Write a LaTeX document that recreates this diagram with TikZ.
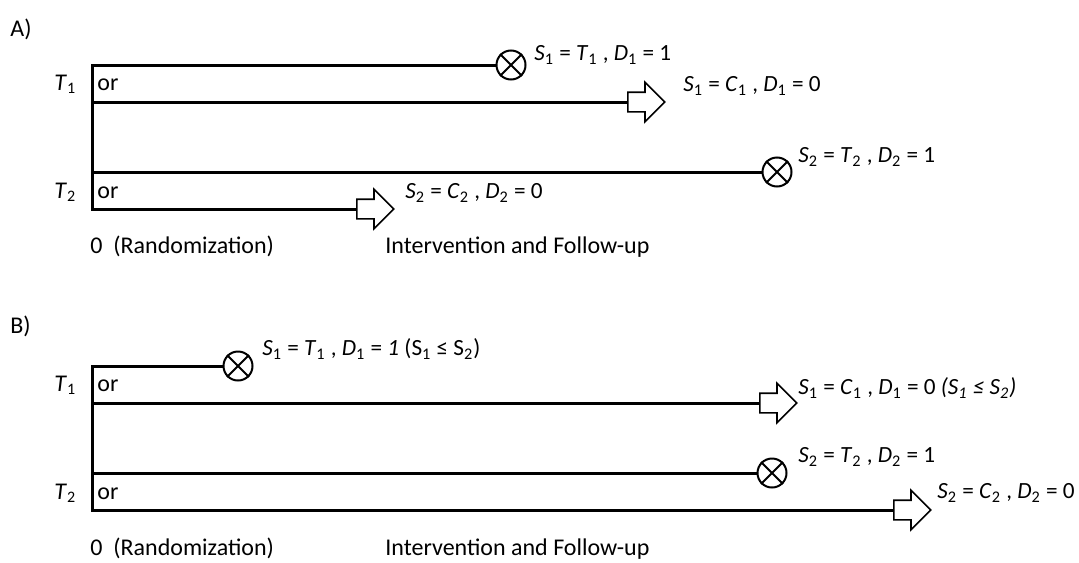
\documentclass[tikz,border=0pt]{standalone}
\usepackage{fontspec}
\setmainfont{Carlito}
\usetikzlibrary{shapes.arrows,positioning}
\newcommand{\sv}[2]{\textit{#1}\textsubscript{#2}}

\begin{document}
\begin{tikzpicture}[x=0.5pt,y=-0.5pt,
  arm/.style={line width=1.5pt,line join=miter},
  event/.style={circle,draw,line width=1pt,minimum size=14.5pt,inner sep=0pt},
  censor/.style={single arrow,draw,line width=0.8pt,inner sep=4.5pt,single arrow head extend=5pt,minimum height=18.5pt,anchor=tail},
  lbl/.style={anchor=base west,inner sep=0pt,font=\fontsize{12}{14}\selectfont},
  res/.style={anchor=west,inner sep=0pt,font=\fontsize{11.6}{14}\selectfont},
  font=\fontsize{12}{14}\selectfont
]
\useasboundingbox (0,0) rectangle (1079,562);
% panel A
\node[lbl] (pA) at (10,36) {A)};
\coordinate (A1) at (92,65);
\coordinate (A2) at (92,102);
\coordinate (A3) at (92,172);
\coordinate (A4) at (92,209);
\node[event] (eA1) at (511,65) {};
\node[censor] (cA2) at (627,102) {};
\node[event] (eA3) at (777,172) {};
\node[censor] (cA4) at (356,209) {};
\draw[arm] (eA1) -- (A1) -- (A4) -- (cA4.tail);
\draw[arm] (A2) -- (cA2.tail);
\draw[arm] (A3) -- (eA3);
\node[lbl] (tA1) at (54,90) {\sv{T}{1}};
\node[lbl] (oA1) at (97,90) {or};
\node[lbl] (tA2) at (54,198) {\sv{T}{2}};
\node[lbl] (oA2) at (97,198) {or};
\node[res] (lA1) at (534,55) {\sv{S}{1} = \sv{T}{1} , \sv{D}{1} = 1};
\node[res] (lA2) at (683,86) {\sv{S}{1} = \sv{C}{1} , \sv{D}{1} = 0};
\node[res] (lA3) at (798,157) {\sv{S}{2} = \sv{T}{2} , \sv{D}{2} = 1};
\node[res] (lA4) at (405,193) {\sv{S}{2} = \sv{C}{2} , \sv{D}{2} = 0};
\node[lbl] (rA) at (90,253) {0\ \ (Randomization)};
\node[lbl] (fA) at (385,253) {Intervention and Follow-up};
% panel B
\node[lbl] (pB) at (10,333) {B)};
\coordinate (B1) at (92,366);
\coordinate (B2) at (92,403);
\coordinate (B3) at (92,473);
\coordinate (B4) at (92,510);
\node[event] (eB1) at (238,366) {};
\node[censor] (cB2) at (759,403) {};
\node[event] (eB3) at (772,473) {};
\node[censor] (cB4) at (893,510) {};
\draw[arm] (eB1) -- (B1) -- (B4) -- (cB4.tail);
\draw[arm] (B2) -- (cB2.tail);
\draw[arm] (B3) -- (eB3);
\node[lbl] (tB1) at (54,391) {\sv{T}{1}};
\node[lbl] (oB1) at (97,391) {or};
\node[lbl] (tB2) at (54,499) {\sv{T}{2}};
\node[lbl] (oB2) at (97,499) {or};
\node[res] (lB1) at (262,349) {\sv{S}{1} = \sv{T}{1} , \sv{D}{1} = \textit{1} (S\textsubscript{1} ≤ S\textsubscript{2})};
\node[res] (lB2) at (798,388) {\sv{S}{1} = \sv{C}{1} , \sv{D}{1} = 0 \textit{(S\textsubscript{1} ≤ S\textsubscript{2})}};
\node[res] (lB3) at (798,457) {\sv{S}{2} = \sv{T}{2} , \sv{D}{2} = 1};
\node[res] (lB4) at (937,493) {\sv{S}{2} = \sv{C}{2} , \sv{D}{2} = 0};
\node[lbl] (rB) at (90,555) {0\ \ (Randomization)};
\node[lbl] (fB) at (385,555) {Intervention and Follow-up};
% crosses in the event circles
\foreach \e in {eA1,eA3,eB1,eB3}
  \draw[line width=1pt] (\e.north east) -- (\e.south west) (\e.north west) -- (\e.south east);
\end{tikzpicture}
\end{document}
